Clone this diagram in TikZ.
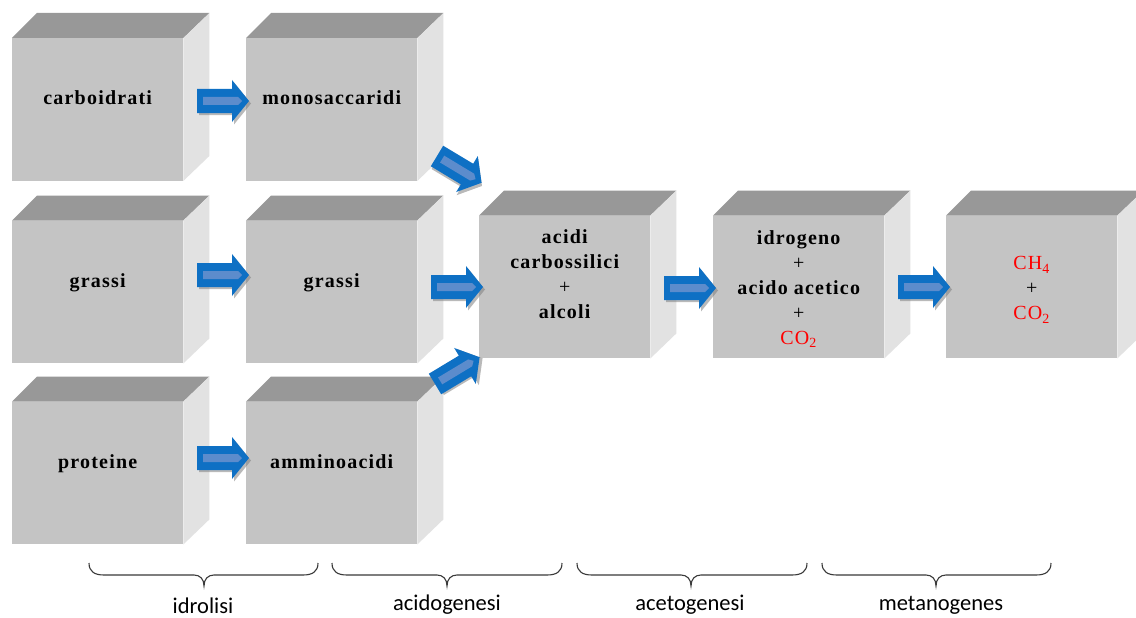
\documentclass[tikz,border=0pt]{standalone}
\usepackage{fontspec}
\setmainfont{Liberation Serif}
\newfontfamily\phasefont{Carlito}
\usetikzlibrary{calc}
\definecolor{frontgray}{RGB}{196,196,196}
\definecolor{topgray}{RGB}{152,152,152}
\definecolor{sidegray}{RGB}{226,226,226}
\definecolor{arrowblue}{RGB}{14,112,196}
\definecolor{stripeblue}{RGB}{92,140,204}
\definecolor{bracegray}{RGB}{58,58,58}
\definecolor{chemred}{RGB}{255,0,0}
\tikzset{
  box/.style={fill=frontgray, draw=none, minimum width=171pt, minimum height=142.5pt, inner sep=0pt, anchor=north west},
  topface/.style={fill=topgray},
  sideface/.style={fill=sidegray},
  boxtext/.style={font=\fontsize{20}{25}\selectfont\bfseries\addfontfeatures{LetterSpace=6}, align=center, inner sep=0pt, text=black},
  phaselabel/.style={font=\phasefont\fontsize{22.5}{27}\selectfont, inner sep=0pt, anchor=base, text=black},
  bracestyle/.style={draw=bracegray, line width=1.1pt},
  blockarrow/.pic={
    \fill[black!50, opacity=0.55] (2,2.5) -- (37,2.5) -- (37,-18.5) -- (54,2.5) -- (37,23.5) -- (37,14) -- (2,14) -- cycle;
    \fill[arrowblue] (0,-12) -- (35,-12) -- (35,-21) -- (52,0) -- (35,21) -- (35,12) -- (0,12) -- cycle;
    \fill[stripeblue] (6,-4) -- (41,-4) -- (45,0) -- (41,4) -- (6,4) -- cycle;
  }
}
\newcommand\cubebox[3]{%
  \node[box] (#1) at (#2,#3) {};
  \fill[topface] (#1.north west) -- ++(25,-25) -- ($(#1.north east)+(26,-25)$) -- (#1.north east) -- cycle;
  \fill[sideface] (#1.north east) -- ++(26,-25) -- ($(#1.south east)+(26,-25)$) -- (#1.south east) -- cycle;
}
\newcommand\phasebrace[3]{%
  \draw[bracestyle] (#1,563) .. controls (#1,572) and (#1+6,575) .. (#1+15,575) -- (#3-10,575)
    .. controls (#3-4,575) and (#3,579) .. (#3,586)
    .. controls (#3,579) and (#3+4,575) .. (#3+10,575) -- (#2-15,575)
    .. controls (#2-6,575) and (#2,572) .. (#2,563);
}
\begin{document}
\begin{tikzpicture}[x=1pt,y=-1pt]
\useasboundingbox (0,0) rectangle (1136,618);
\clip (0,0) rectangle (1136,618);
\fill[white] (0,0) rectangle (1136,618);

% cubes
\cubebox{carb}{12}{38}
\cubebox{mono}{246}{38}
\cubebox{grassiA}{12}{220.5}
\cubebox{grassiB}{246}{220.5}
\cubebox{prot}{12}{401.5}
\cubebox{ammino}{246}{401.5}
\cubebox{acidi}{479}{215.5}
\cubebox{idro}{713}{215.5}
\cubebox{metano}{946}{215.5}

% texts
\node[boxtext, anchor=base] (tcarb) at ($(carb.north)+(0,66.5)$) {carboidrati};
\node[boxtext, anchor=base] (tmono) at ($(mono.north)+(0,66.5)$) {monosaccaridi};
\node[boxtext, anchor=base] (tgrA) at ($(grassiA.north)+(0,66.5)$) {grassi};
\node[boxtext, anchor=base] (tgrB) at ($(grassiB.north)+(0,66.5)$) {grassi};
\node[boxtext, anchor=base] (tprot) at ($(prot.north)+(0,66.5)$) {proteine};
\node[boxtext, anchor=base] (tammino) at ($(ammino.north)+(0,66.5)$) {amminoacidi};
\node[boxtext, anchor=north] (tacidi) at ($(acidi.north)+(0,14)$) {acidi\\carbossilici\\{\mdseries +}\\alcoli};
\node[boxtext, anchor=north] (tidro) at ($(idro.north)+(0,15)$) {idrogeno\\{\mdseries +}\\acido acetico\\{\mdseries +}\\{\mdseries\color{chemred}CO\textsubscript{2}}};
\node[boxtext, anchor=north] (tmetano) at ($(metano.north)+(0,41)$) {{\mdseries\color{chemred}CH\textsubscript{4}}\\{\mdseries +}\\{\mdseries\color{chemred}CO\textsubscript{2}}};

% block arrows
\pic at (197,101) {blockarrow};
\pic at (197,275) {blockarrow};
\pic at (197,458) {blockarrow};
\pic[rotate=-31] at (437,156) {blockarrow};
\pic at (431,287) {blockarrow};
\pic[rotate=31] at (435,384) {blockarrow};
\pic at (664,288) {blockarrow};
\pic at (898,287) {blockarrow};

% braces and phase labels
\phasebrace{89}{318}{204}
\phasebrace{332}{562}{447}
\phasebrace{577}{807}{691}
\phasebrace{822}{1051}{936}
\node[phaselabel] (lidro) at (203,613.5) {idrolisi};
\node[phaselabel] (lacido) at (447,610) {acidogenesi};
\node[phaselabel] (laceto) at (690,610) {acetogenesi};
\node[phaselabel] (lmetano) at (941,610) {metanogenes};
\end{tikzpicture}
\end{document}
